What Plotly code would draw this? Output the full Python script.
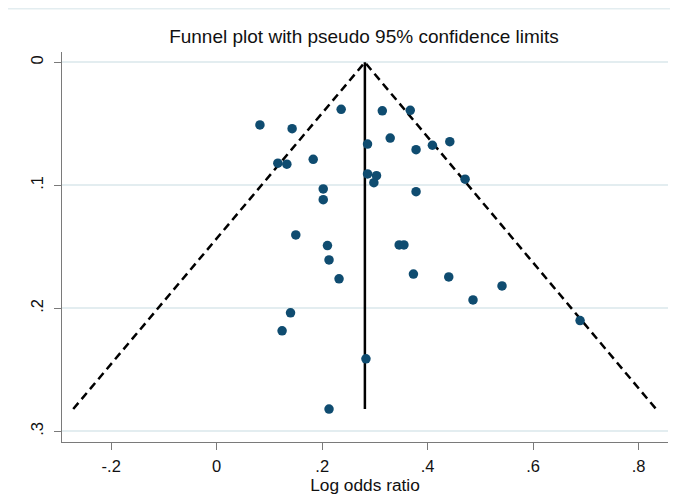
import plotly.graph_objects as go

# Study estimates (log odds ratio) and their standard errors
log_or = [0.082, 0.143, 0.236, 0.314, 0.367, 0.329, 0.286, 0.378, 0.409, 0.442,
          0.116, 0.133, 0.183, 0.286, 0.303, 0.298, 0.471, 0.202, 0.378, 0.202,
          0.150, 0.210, 0.346, 0.355, 0.213, 0.232, 0.373, 0.440, 0.541, 0.486,
          0.140, 0.124, 0.689, 0.283, 0.213]
se = [0.0509, 0.0539, 0.0382, 0.0394, 0.0390, 0.0616, 0.0664, 0.0710, 0.0674, 0.0645,
      0.0820, 0.0828, 0.0788, 0.0907, 0.0921, 0.0978, 0.0950, 0.1029, 0.1051, 0.1116,
      0.1403, 0.1489, 0.1484, 0.1484, 0.1606, 0.1760, 0.1721, 0.1744, 0.1817, 0.1931,
      0.2036, 0.2182, 0.2099, 0.2410, 0.2818]

# Pooled estimate line and pseudo 95% confidence limits
pooled_x = [0.281, 0.281]
pooled_y = [0.0, 0.2818]
funnel_x = [-0.272, 0.281, 0.833]
funnel_y = [0.2818, 0.0, 0.2818]

x_ticks = [-0.2, 0, 0.2, 0.4, 0.6, 0.8]
x_labels = ["-.2", "0", ".2", ".4", ".6", ".8"]
y_ticks = [0, 0.1, 0.2, 0.3]
y_labels = ["0", ".1", ".2", ".3"]

fig = go.Figure()
fig.add_trace(go.Scatter(x=funnel_x, y=funnel_y, mode="lines",
                         line=dict(color="black", width=2.5, dash="8px,5px"),
                         hoverinfo="skip", showlegend=False))
fig.add_trace(go.Scatter(x=pooled_x, y=pooled_y, mode="lines",
                         line=dict(color="black", width=2.5),
                         hoverinfo="skip", showlegend=False))
fig.add_trace(go.Scatter(x=log_or, y=se, mode="markers",
                         marker=dict(color="#0f4c70", size=9.5, line=dict(width=0)),
                         showlegend=False))

# page body has an 8px margin, so the figure is sized to fill the rest
W, H = 670, 496
L, R, T, B = 54, 10, 44, 62
pw, ph = W - L - R, H - T - B

font_fam = "Liberation Sans, Arial, sans-serif"
fig.update_layout(
    width=W, height=H,
    margin=dict(l=L, r=R, t=T, b=B, autoexpand=False),
    paper_bgcolor="white", plot_bgcolor="white",
    font=dict(family=font_fam, size=16, color="#111"),
    title=dict(text="Funnel plot with pseudo 95% confidence limits",
               x=356 / W, xanchor="center",
               y=1 - 28 / H, yanchor="middle",
               font=dict(size=19, color="#111")),
    xaxis=dict(range=[-0.2933, 0.8557], tickvals=x_ticks, ticktext=x_labels,
               showgrid=False, zeroline=False, showline=True, linecolor="#7a7a7a",
               linewidth=1.3, ticks="outside", ticklen=7, tickcolor="#7a7a7a",
               tickfont=dict(size=16.5), automargin=False, ticklabelstandoff=2,
               title=dict(text="Log odds ratio", font=dict(size=17.3), standoff=0)),
    yaxis=dict(range=[0.3086, -0.0084], tickvals=y_ticks, ticktext=y_labels,
               showgrid=True, gridcolor="#e3edf0", gridwidth=1.5,
               zeroline=False, showline=True, linecolor="#7a7a7a", linewidth=1.3,
               ticks="outside", ticklen=7, tickcolor="#7a7a7a", automargin=False,
               tickangle=-90, tickfont=dict(size=16.5), ticklabelstandoff=4),
    shapes=[dict(type="line", xref="paper", yref="paper",
                 x0=-L / pw, x1=(W - 8 - L) / pw,
                 y0=1 + (T - 0.8) / ph, y1=1 + (T - 0.8) / ph,
                 line=dict(color="#e3edf0", width=1.5))],
)

fig.write_html("out.html")
